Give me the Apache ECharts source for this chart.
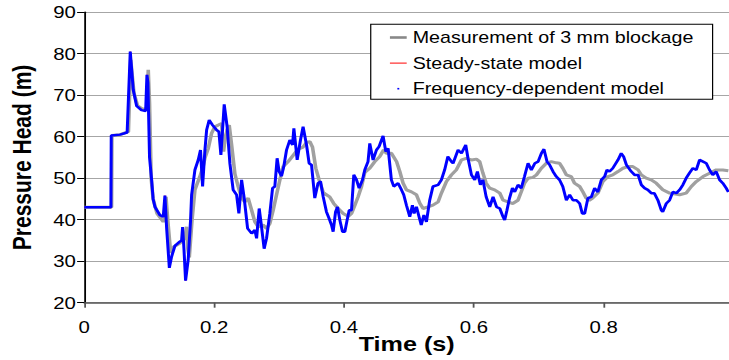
<!DOCTYPE html>
<html>
<head>
<meta charset="utf-8">
<script src="https://cdn.jsdelivr.net/npm/echarts@6/dist/echarts.min.js"></script>
<style>
html,body{margin:0;padding:0;background:#fff;overflow:hidden;}
#c{width:608px;height:360px;transform:scaleX(1.19901);transform-origin:0 0;}
</style>
</head>
<body>
<div id="c"></div>
<script>
// ---- data ----
const measName = 'Measurement of 3 mm blockage';
const steadyName = 'Steady-state model';
const freqName = 'Frequency-dependent model';

const measTime = [0,0.042,0.0425,0.055,0.068,0.0715,0.0765,0.082,0.09,0.0965,
0.0985,0.1005,0.103,0.106,0.112,0.1216,0.124,0.1258,0.1285,0.133,
0.138,0.147,0.155,0.1576,0.1595,0.1617,0.166,0.1704,0.178,0.183,
0.186,0.191,0.196,0.201,0.2063,0.2115,0.2145,0.2166,0.22,0.2232,
0.2269,0.232,0.237,0.2423,0.2473,0.2524,0.2577,0.2627,0.2678,0.2755,
0.2807,0.2858,0.2909,0.2961,0.3012,0.3063,0.314,0.3217,0.3294,0.337,
0.3423,0.3474,0.3515,0.3566,0.3617,0.368,0.373,0.378,0.3843,0.391,
0.3987,0.4064,0.4116,0.4167,0.4217,0.427,0.432,0.4397,0.4474,0.455,
0.461,0.4654,0.473,0.481,0.486,0.491,0.4962,0.504,0.5116,0.5167,
0.5218,0.5295,0.537,0.545,0.55,0.5578,0.5655,0.573,0.581,0.5885,
0.5963,0.604,0.609,0.614,0.619,0.6245,0.632,0.64,0.645,0.6526,
0.66,0.668,0.673,0.678,0.6835,0.691,0.6965,0.704,0.7117,0.7194,
0.727,0.732,0.737,0.7425,0.75,0.755,0.763,0.768,0.773,0.778,
0.783,0.791,0.7988,0.8065,0.814,0.822,0.8296,0.8373,0.845,0.853,
0.858,0.8655,0.8733,0.881,0.891,0.9015,0.917,0.927,0.935,0.9426,
0.953,0.963,0.9733,0.9835,0.992];
const measHead = [43,43,60.3,60.5,61.2,78.5,70.5,67.5,66.6,66.8,
76.1,68,50,45,41.5,39.5,40,45.5,40,32,
33.5,34.3,35.5,38.3,33,30.9,40,47.2,50.4,52.8,
55,57.2,60.8,62.4,62.8,63.2,56.4,59.2,61.6,62.8,
58,51,48,45.2,44.3,45.2,42.3,39.5,38.3,38.7,
37.9,39.1,42.3,46,49.6,52.8,54,55.5,57,57.5,
58.6,58.8,57.5,52.4,49.6,46.6,46,45.5,43.9,42.7,
41.5,40.8,41.5,43.5,45.5,48,51.4,52.4,54,55.2,
56.8,56,56,54,51.6,48.8,47.2,46.7,46,44,
42.7,43.1,43.5,44.3,46.4,49.2,50.8,52,54.4,54.8,
54.4,54.6,54,51.2,48.8,47.6,47.2,46.4,44.7,44.3,
43.9,44.7,46.7,48.8,50,50.2,50.8,52.4,53.6,54,
53.7,53.6,52.4,50.8,50.4,48.8,48,46.7,45.2,44.7,
45.2,46.4,49.2,50.4,50.8,51.6,52.4,52.8,52.8,52,
50.8,50,49.6,48.8,47.2,46.4,46,46.4,48,49.2,
50.4,51.2,52,52,51.8];

const steadyTime = [0,0.041,0.0415,0.055,0.066,0.0708,0.0754,0.0806,0.088,0.0945,
0.0965,0.098,0.1005,0.1037,0.106,0.1088,0.1165,0.1216,0.1242,0.1268,
0.131,0.1345,0.1396,0.147,0.1499,0.1514,0.1535,0.156,0.160,0.1637,
0.1653,0.1704];
const steadyHead = [43,43,60.3,60.5,61,80.5,71.3,67.4,66.4,66.2,
74.9,73,55,49.6,45,43.1,41.1,40.7,45.8,38,
28.4,31.1,33.7,34.7,35,38.2,33,25.3,30.3,39.9,
46,52];

const freqTime = [0,0.041,0.0415,0.055,0.066,0.0708,0.0754,0.0806,0.088,0.0945,
0.0965,0.098,0.1005,0.1037,0.106,0.1088,0.1165,0.1216,0.1242,0.1268,
0.131,0.1345,0.1396,0.147,0.1499,0.1514,0.1535,0.156,0.160,0.1637,
0.1653,0.1704,0.1755,0.179,0.1822,0.1858,0.1884,0.1924,0.1976,0.2038,
0.2073,0.2104,0.2155,0.22,0.2243,0.2293,0.2346,0.2381,0.2423,0.2463,
0.2515,0.2577,0.2627,0.2654,0.2694,0.273,0.277,0.2807,0.2858,0.29,
0.2935,0.297,0.3001,0.3038,0.3075,0.3115,0.3166,0.3207,0.3228,0.3279,
0.333,0.337,0.3423,0.3463,0.35,0.355,0.36,0.3639,0.368,0.373,
0.377,0.3808,0.3833,0.387,0.39,0.3936,0.3977,0.4013,0.4048,0.408,
0.4116,0.4151,0.4193,0.4233,0.4285,0.432,0.437,0.4397,0.4448,0.45,
0.454,0.4602,0.4644,0.468,0.473,0.4767,0.4833,0.4885,0.492,0.4962,
0.5013,0.5054,0.508,0.5116,0.5156,0.519,0.523,0.527,0.532,0.537,
0.545,0.55,0.555,0.56,0.5655,0.568,0.5757,0.581,0.5875,0.591,
0.5963,0.6014,0.6055,0.61,0.614,0.619,0.6245,0.6296,0.635,0.64,
0.645,0.6475,0.651,0.655,0.6594,0.663,0.668,0.673,0.678,0.6835,
0.6886,0.694,0.699,0.704,0.708,0.7127,0.7168,0.722,0.727,0.732,
0.737,0.7425,0.7476,0.7527,0.758,0.763,0.767,0.7707,0.7757,0.781,
0.786,0.791,0.7964,0.8014,0.805,0.809,0.814,0.822,0.827,0.8307,
0.835,0.8425,0.8476,0.853,0.858,0.863,0.868,0.8733,0.878,0.8835,
0.8887,0.891,0.8964,0.9015,0.9066,0.912,0.917,0.922,0.927,0.932,
0.9374,0.9426,0.9477,0.953,0.958,0.963,0.968,0.9733,0.9785,0.9835,
0.9887,0.992];
const freqHead = [43,43,60.3,60.5,61,80.5,71.3,67.4,66.4,66.2,
74.9,73,55,49.6,45,43.1,41.1,40.7,45.8,38,
28.4,31.1,33.7,34.7,35,38.2,33,25.3,30.3,39.9,
46,52,54.4,56.8,48,56.8,61.6,64,62.8,61.6,
61.2,55.6,67.8,62.4,53.5,47.2,46,41.5,49.6,45.2,
37.9,36.7,37.5,35.5,42.7,38.3,33,35.5,41.5,47.6,
48,54.8,51.6,50.5,53,56.8,59.2,58,62,54.4,
59.2,62.4,58,53.6,53.2,45.2,48.8,49.2,45.5,41.9,
40.3,38.7,37.1,41.9,43.1,39.9,37.1,37.1,39.9,42.3,
42.3,50.8,49.6,47.6,49.6,52,54,58.4,54.4,56.8,
57.6,60.2,56.4,57.2,49.6,48,48.8,47.2,46,43.5,
40.7,43.5,41.5,43.1,40.7,38.7,41.1,39.5,44.7,48,
48.4,49.6,52,55.2,54,53.6,56.8,56,58,54.8,
50.8,49.6,51.6,48.4,49.6,45.5,43.1,45.5,43.1,42.7,
40.7,39.9,42.3,45.2,47.6,46.7,48.4,47.6,50.4,53.6,
52,53.6,54,56,57,54,53.2,51.6,50.4,49.6,
48,44.7,46,44.7,44.7,43.9,41.5,41.5,45.2,45.5,
47.6,46.7,49.6,50.4,52,51.6,52.4,54.4,56,55.2,
53.2,51.6,50.8,50.8,48.4,47.6,47.2,46.4,46.4,44.7,
42.3,41.9,43.9,44.7,46.7,46.4,47.2,48.4,50,51.2,
52.4,52,54.4,54,53.6,52,50.8,51.6,49.6,48.8,
47.6,46.7];

// ---- chart ----
const zip = (t, h) => t.map((x, i) => [x, h[i]]);
const FONT = "'Liberation Sans', Arial, sans-serif";
const chart = echarts.init(document.getElementById('c'), null, {renderer: 'svg'});
chart.setOption({
  animation: false,
  backgroundColor: '#fff',
  grid: {left: 70.3, right: 0, top: 12.2, bottom: 57.3, containLabel: false, outerBoundsMode: 'none'},
  legend: {
    orient: 'vertical', left: 309.2, top: 24.3, align: 'left',
    padding: [5.2, 16, 2.5, 16],
    itemWidth: 14, itemHeight: 14, itemGap: 9.6,
    backgroundColor: '#fff', borderColor: '#000', borderWidth: 1, borderRadius: 0,
    textStyle: {fontSize: 16.4, color: '#000', fontFamily: FONT},
    selectedMode: false,
    data: [
      {name: measName, icon: 'path://M0,0M14,14M0,5.7L14,5.7L14,8.3L0,8.3Z', itemStyle: {color: '#888', borderWidth: 0}},
      {name: steadyName, icon: 'path://M0,0M14,14M0,6.5L14,6.5L14,7.5L0,7.5Z', itemStyle: {color: '#ff0000', borderWidth: 0}},
      {name: freqName, icon: 'path://M0,0M14,14M6.2,6.2L7.8,6.2L7.8,7.8L6.2,7.8Z', itemStyle: {color: '#0000ff', borderWidth: 0}}
    ]
  },
  xAxis: {
    type: 'value', min: 0, max: 0.993, interval: 0.2,
    name: 'Time (s)', nameLocation: 'middle', nameGap: 31, nameMoveOverlap: false,
    nameTextStyle: {fontSize: 21, fontWeight: 'bold', color: '#000', fontFamily: FONT},
    axisLine: {show: true, onZero: false, lineStyle: {color: '#555', width: 1.5}},
    axisTick: {show: true, length: 5, lineStyle: {color: '#555', width: 1.5}},
    axisLabel: {fontSize: 17, color: '#000', margin: 16, fontFamily: FONT, showMaxLabel: false},
    splitLine: {show: false}
  },
  yAxis: {
    type: 'value', min: 20, max: 90, interval: 10,
    name: 'Pressure Head (m)', nameLocation: 'middle', nameGap: 41, nameMoveOverlap: false,
    nameTextStyle: {fontSize: 21, fontWeight: 'bold', color: '#000', fontFamily: FONT},
    axisLine: {show: true, lineStyle: {color: '#000', width: 1.5}},
    axisTick: {show: true, length: 6, lineStyle: {color: '#000', width: 1}},
    axisLabel: {fontSize: 17, color: '#000', margin: 7, fontFamily: FONT},
    splitLine: {show: true, lineStyle: {color: '#a6a6a6', width: 1}}
  },
  series: [
    {name: measName, type: 'line', data: zip(measTime, measHead), symbol: 'none', showSymbol: false,
     lineStyle: {color: '#a0a0a0', width: 3}, itemStyle: {color: '#a0a0a0'}, z: 1},
    {name: steadyName, type: 'line', data: zip(steadyTime, steadyHead), symbol: 'none', showSymbol: false,
     lineStyle: {color: '#ff0000', width: 1}, itemStyle: {color: '#ff0000'}, z: 2},
    {name: freqName, type: 'line', data: zip(freqTime, freqHead), symbol: 'none', showSymbol: false,
     lineStyle: {color: '#0000ff', width: 2.5}, itemStyle: {color: '#0000ff'}, z: 3}
  ]
});
</script>
</body>
</html>
